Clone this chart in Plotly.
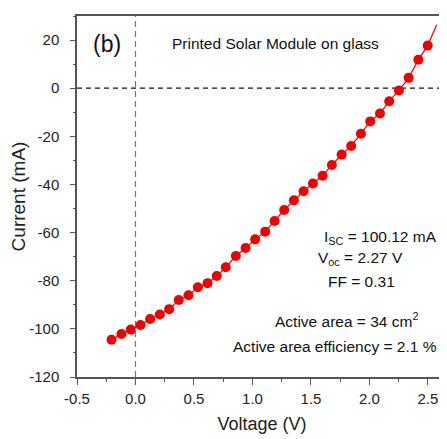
import plotly.graph_objects as go

voltage_v = [-0.205, -0.12, -0.04, 0.043, 0.125, 0.208, 0.288, 0.37, 0.453, 0.533,
             0.616, 0.695, 0.772, 0.858, 0.941, 1.023, 1.109, 1.189, 1.271, 1.354,
             1.437, 1.517, 1.6, 1.679, 1.762, 1.844, 1.927, 2.007, 2.09, 2.169,
             2.252, 2.335, 2.418, 2.498]
current_ma = [-104.5, -102.1, -100.3, -98.4, -95.9, -94.0, -91.8, -88.0, -86.0, -82.7,
              -81.0, -78.0, -74.4, -69.7, -66.4, -62.8, -59.6, -55.2, -50.6, -46.6,
              -42.8, -39.6, -36.4, -31.9, -27.6, -24.0, -18.9, -13.8, -10.5, -5.4,
              -0.95, 4.3, 11.8, 17.7]

# Connecting line continues slightly beyond the last measured point
line_v = voltage_v + [2.575]
line_i = current_ma + [26.4]

x_tick_vals = [-0.5, 0.0, 0.5, 1.0, 1.5, 2.0, 2.5]
x_tick_labels = ["-0.5", "0.0", "0.5", "1.0", "1.5", "2.0", "2.5"]
y_tick_vals = [-120, -100, -80, -60, -40, -20, 0, 20]
y_tick_labels = ["-120", "-100", "-80", "-60", "-40", "-20", "0", "20"]

FONT = "Liberation Sans, Arial, sans-serif"
RED = "#f20000"
AX = "#555555"

fig = go.Figure()
fig.add_trace(go.Scatter(x=line_v, y=line_i, mode="lines",
                         line=dict(color=RED, width=1.2), showlegend=False,
                         hoverinfo="skip"))
fig.add_trace(go.Scatter(x=voltage_v, y=current_ma, mode="markers",
                         marker=dict(color=RED, size=10, line=dict(width=0)),
                         showlegend=False))

# dashed reference lines
fig.add_shape(type="line", xref="x", yref="paper", x0=0, x1=0, y0=0, y1=1,
              line=dict(color="#777777", width=1.2, dash="6px,4px"), layer="below")
fig.add_shape(type="line", xref="paper", yref="y", x0=0, x1=1, y0=0, y1=0,
              line=dict(color="#111111", width=1.2, dash="5px,4px"), layer="below")

ann_font = dict(family=FONT, size=15.5, color="#111111")
annotations = [
    dict(x=-0.245, y=18.5, text="(b)", font=dict(family=FONT, size=23, color="#111111")),
    dict(x=1.2, y=18.5, text="Printed Solar Module on glass", font=ann_font),
    dict(x=2.094, y=-62.0, text="I<sub>SC</sub> = 100.12 mA", font=ann_font),
    dict(x=1.927, y=-70.8, text="V<sub>oc</sub> = 2.27 V", font=ann_font),
    dict(x=1.931, y=-80.3, text="FF = 0.31", font=ann_font),
    dict(x=1.808, y=-96.2, text="Active area = 34 cm<sup>2</sup>", font=ann_font),
    dict(x=1.705, y=-107.2, text="Active area efficiency = 2.1 %", font=ann_font),
]
for a in annotations:
    fig.add_annotation(xref="x", yref="y", showarrow=False, xanchor="center",
                       yanchor="middle", **a)

# The page body adds an 8px offset; size the figure so it fits the window exactly.
fig.update_layout(
    width=439, height=431,
    margin=dict(l=69, r=0, t=8, b=62),
    paper_bgcolor="white", plot_bgcolor="white",
    font=dict(family=FONT, size=15, color="#222222"),
    xaxis=dict(range=[-0.5, 2.663], tickvals=x_tick_vals, ticktext=x_tick_labels,
               showgrid=False, zeroline=False, showline=True, linecolor=AX,
               linewidth=1.5, mirror=True, ticks="outside", ticklen=6, tickwidth=1.2,
               tickcolor=AX, ticklabelstandoff=1,
               minor=dict(dtick=0.25, ticks="outside", ticklen=3, tickcolor=AX,
                          tickwidth=1, showgrid=False),
               title=dict(text="Voltage (V)", font=dict(size=18), standoff=12)),
    yaxis=dict(range=[-120, 30], tickvals=y_tick_vals, ticktext=y_tick_labels,
               showgrid=False, zeroline=False, showline=True, linecolor=AX,
               linewidth=1.5, ticks="outside", ticklen=5, tickwidth=1.2,
               tickcolor=AX, ticklabelstandoff=8,
               minor=dict(dtick=10, ticks="outside", ticklen=2, tickcolor=AX,
                          tickwidth=1, showgrid=False),
               title=dict(text="Current (mA)", font=dict(size=19), standoff=0)),
)

fig.write_html("out.html")
